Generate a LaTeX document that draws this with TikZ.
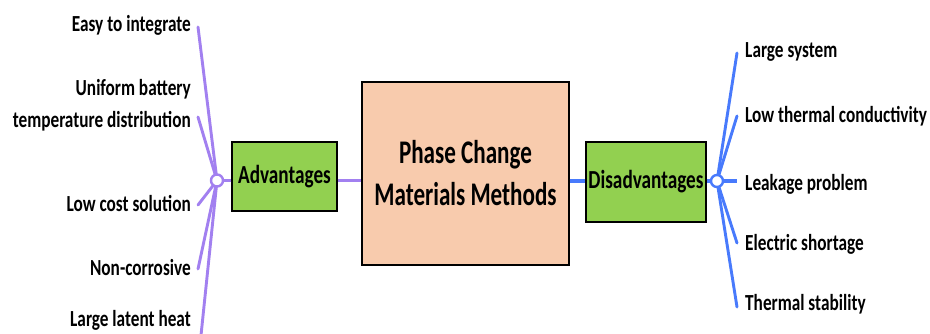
\documentclass[tikz,border=0pt]{standalone}
\usepackage{fontspec}
\newfontfamily\lab{Carlito}[FakeStretch=0.75]
\newfontfamily\labbox{Carlito}[FakeStretch=0.74]
\newfontfamily\labmain{Carlito}[FakeStretch=0.70]
\definecolor{purp}{RGB}{162,128,240}
\definecolor{blu}{RGB}{72,122,252}
\definecolor{boxgreen}{HTML}{92D050}
\definecolor{peach}{HTML}{F8CBAD}
\begin{document}
\begin{tikzpicture}[x=1pt,y=-1pt,
  leafL/.style={anchor=base east,inner sep=0pt,align=right,font=\lab\bfseries\fontsize{23}{32}\selectfont},
  leafR/.style={anchor=base west,inner sep=0pt,align=left,font=\lab\bfseries\fontsize{23}{32}\selectfont},
  catbox/.style={draw=black,line width=1.3pt,fill=boxgreen,inner sep=0pt,font=\labbox\bfseries\fontsize{26}{30}\selectfont},
  mainbox/.style={draw=black,line width=1.3pt,fill=peach,inner sep=0pt,align=center,font=\labmain\bfseries\fontsize{33}{42}\selectfont},
  hub/.style={circle,draw,line width=2.4pt,fill=white,minimum size=12pt,inner sep=0pt},
  pline/.style={purp,line width=2.9pt},
  bline/.style={blu,line width=2.9pt},
  plinek/.style={purp,line width=3.8pt},
  blinek/.style={blu,line width=3.8pt}]
\clip (0,0) rectangle (930,333);
\fill[white] (0,0) rectangle (930,333);
% boxes
\node[mainbox,minimum width=207pt,minimum height=183pt] (main) at (465.5,173.5) {Phase Change\\Materials Methods};
\node[catbox,minimum width=105pt,minimum height=69pt] (adv) at (284.5,176.5) {Advantages};
\node[catbox,minimum width=120pt,minimum height=80pt] (dis) at (646,182) {Disadvantages};
% hubs positions
\coordinate (hl) at (217,180.5);
\coordinate (hr) at (717,181);
% left leaf ends
\coordinate (l1) at (198,27);
\coordinate (l2) at (198,117);
\coordinate (l3) at (198,205);
\coordinate (l4) at (198,269);
\coordinate (l5) at (200,345);
% right leaf ends
\coordinate (r1) at (737,53);
\coordinate (r2) at (737,116);
\coordinate (r3) at (737,181);
\coordinate (r4) at (737,243);
\coordinate (r5) at (737,307);
% texts
\node[leafL] (t1) at (191,31) {Easy to integrate};
\node[leafL] (t2) at (191,127) {Uniform battery\\temperature distribution};
\node[leafL] (t3) at (191,211) {Low cost solution};
\node[leafL] (t4) at (191,275) {Non-corrosive};
\node[leafL] (t5) at (191,326) {Large latent heat};
\node[leafR] (s1) at (745,57) {Large system};
\node[leafR] (s2) at (745,122) {Low thermal conductivity};
\node[leafR] (s3) at (745,190) {Leakage problem};
\node[leafR] (s4) at (745,250) {Electric shortage};
\node[leafR] (s5) at (745,310) {Thermal stability};
% connectors
\foreach \e in {l1,l2,l3,l4,l5} \draw[pline,line cap=round] (hl) -- (\e);
\foreach \e in {r1,r2,r4,r5} \draw[bline,line cap=round] (hr) -- (\e);
\draw[blinek] (hr) -- (r3);
\draw[plinek] (adv.west |- hl) -- (hl);
\draw[plinek] (adv.east |- hl) -- (main.west |- hl);
\draw[blinek] (main.east |- hr) -- (dis.west |- hr);
\draw[blinek] (dis.east |- hr) -- (hr);
\node[hub,draw=purp] (hubl) at (hl) {};
\node[hub,draw=blu] (hubr) at (hr) {};
\end{tikzpicture}
\end{document}
